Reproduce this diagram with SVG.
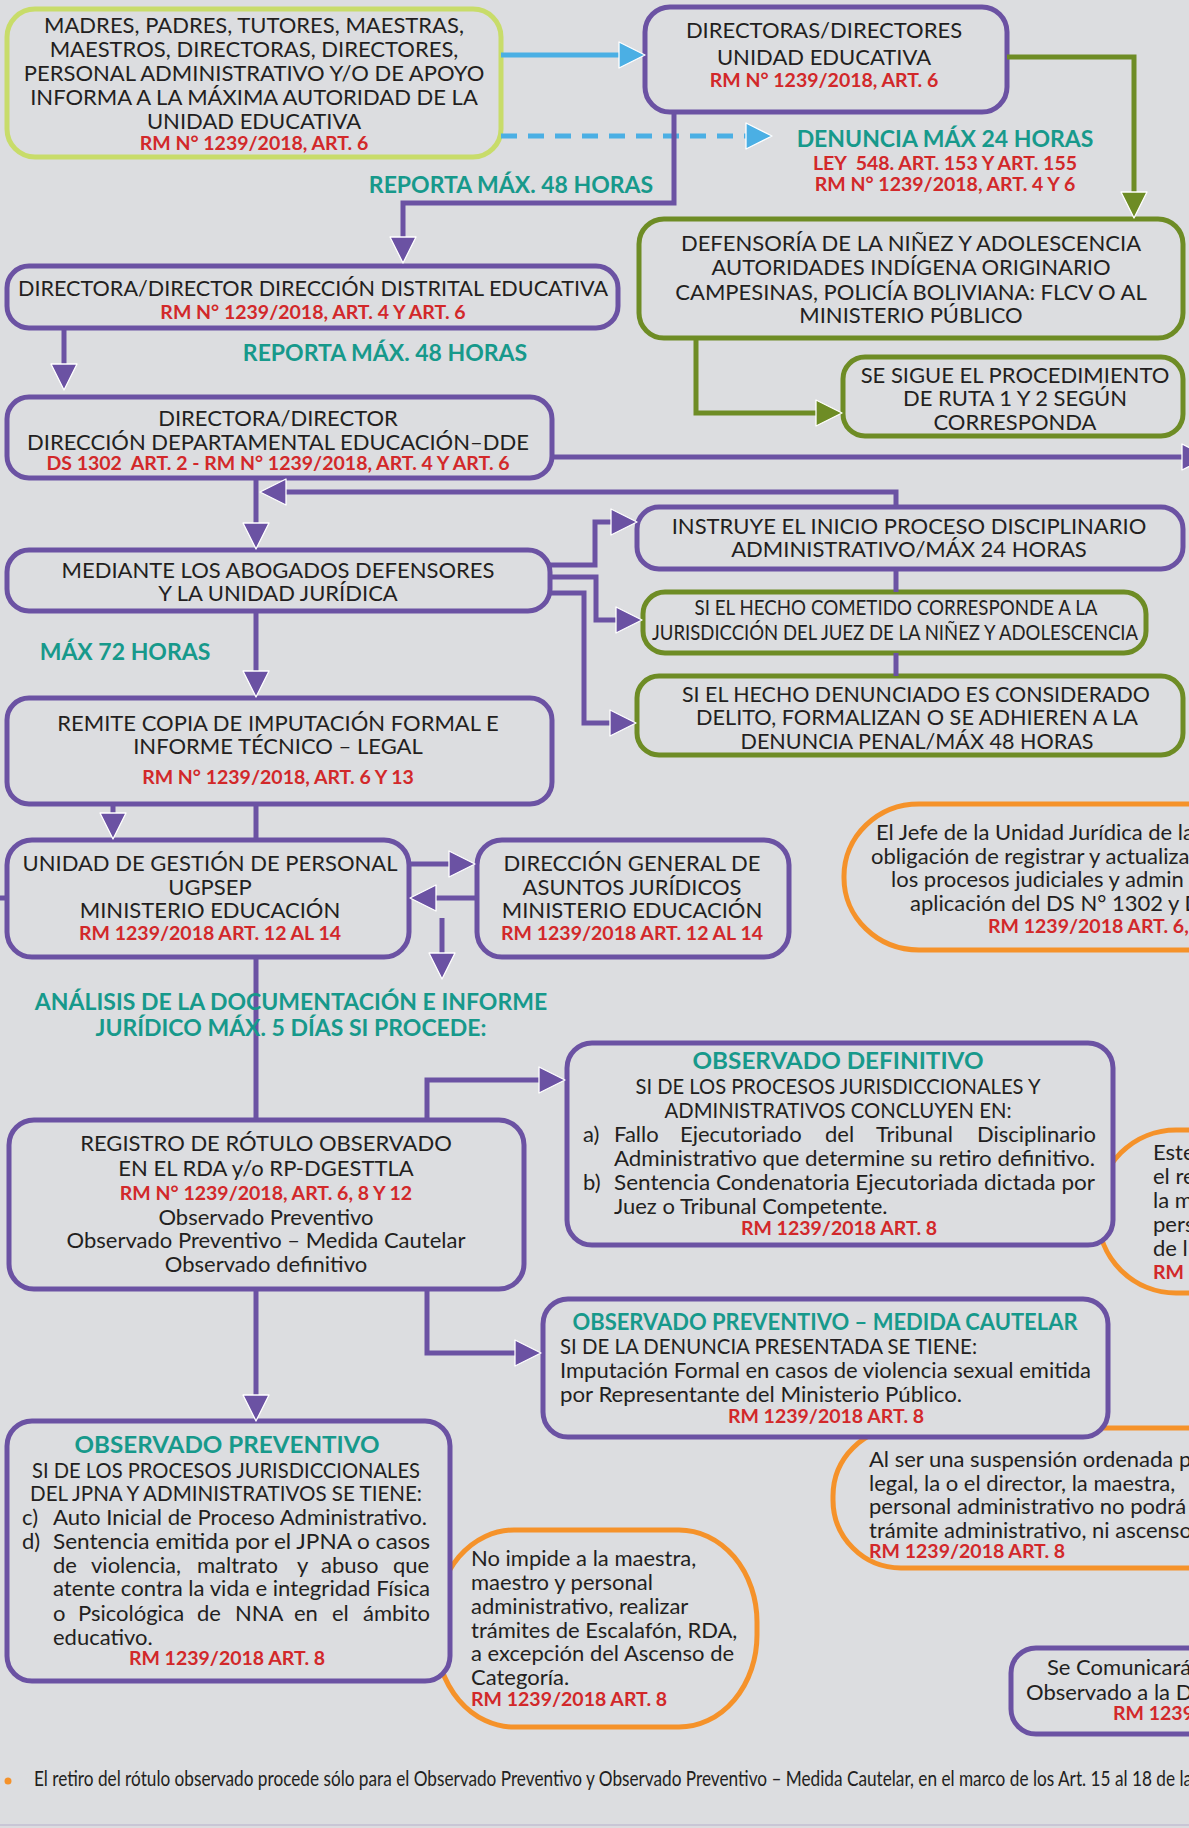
<svg xmlns="http://www.w3.org/2000/svg" width="1189" height="1828" viewBox="0 0 1189 1828">
<style>
text{font-family:Lato,"Liberation Sans",sans-serif;fill:#231f20;font-size:22px}
.c{text-anchor:middle}
.r{fill:#d2282a;font-weight:bold;font-size:19.5px}
.h{fill:#17998b;font-weight:bold;font-size:23px}
.bx{fill:#dcdde0;stroke-width:5}
.pu{stroke:#6b52a3}
.gr{stroke:#6e8c25}
.lg{stroke:#c8dc6a}
.or{stroke:#f5922a}
.cn{fill:none;stroke-width:5;stroke-linejoin:miter}
.cp{stroke:#6b52a3}
.cg{stroke:#6e8c25}
.cb{stroke:#4bafe4}
.dash{stroke-dasharray:16 11}
</style>
<defs>
<marker id="ap" markerUnits="userSpaceOnUse" markerWidth="34" markerHeight="34" viewBox="-3 -17 34 34" refX="0" refY="0" orient="auto" overflow="visible"><path d="M0,-13 L26,0 L0,13 Z" fill="#6b52a3" stroke="#fff" stroke-width="1.3" stroke-linejoin="round"/></marker>
<marker id="ag" markerUnits="userSpaceOnUse" markerWidth="34" markerHeight="34" viewBox="-3 -17 34 34" refX="0" refY="0" orient="auto" overflow="visible"><path d="M0,-13 L26,0 L0,13 Z" fill="#6e8c25" stroke="#fff" stroke-width="1.3" stroke-linejoin="round"/></marker>
<marker id="ab" markerUnits="userSpaceOnUse" markerWidth="34" markerHeight="34" viewBox="-3 -17 34 34" refX="0" refY="0" orient="auto" overflow="visible"><path d="M0,-13 L26,0 L0,13 Z" fill="#4bafe4" stroke="#fff" stroke-width="1.3" stroke-linejoin="round"/></marker>
</defs>
<rect x="0" y="0" width="1189" height="1828" fill="#dcdde0"/>
<line x1="0" y1="1825" x2="1189" y2="1825" stroke="#c9c6d6" stroke-width="2"/>

<g id="nota-jefe">
<rect class="bx or" x="844" y="804" width="420" height="146" rx="75" ry="72"/>
<text x="876" y="840">El Jefe de la Unidad Jurídica de la</text>
<text x="871" y="864">obligación de registrar y actualiza</text>
<text x="891" y="887">los procesos judiciales y admin</text>
<text x="910" y="911">aplicación del DS N° 1302 y D</text>
<text class="r" x="988" y="933">RM 1239/2018 ART. 6,</text>
</g>
<g id="nota-este">
<rect class="bx or" x="1098" y="1130" width="220" height="163" rx="78" ry="78"/>
<text x="1153" y="1160">Este</text>
<text x="1153" y="1184">el re</text>
<text x="1153" y="1208">la m</text>
<text x="1153" y="1232">pers</text>
<text x="1153" y="1256">de l</text>
<text class="r" x="1153" y="1279">RM</text>
</g>
<g id="nota-suspension">
<rect class="bx or" x="833" y="1428" width="420" height="140" rx="68" ry="68"/>
<text x="869" y="1467">Al ser una suspensión ordenada p</text>
<text x="869" y="1491">legal, la o el director, la maestra,</text>
<text x="869" y="1514">personal administrativo no podrá</text>
<text x="869" y="1538">trámite administrativo, ni ascenso</text>
<text class="r" x="869" y="1558">RM 1239/2018 ART. 8</text>
</g>
<g id="nota-no-impide">
<rect class="bx or" x="436" y="1530" width="321" height="197" rx="78" ry="92"/>
<text x="471" y="1566">No impide a la maestra,</text>
<text x="471" y="1590">maestro y personal</text>
<text x="471" y="1614">administrativo, realizar</text>
<text x="471" y="1638">trámites de Escalafón, RDA,</text>
<text x="471" y="1661">a excepción del Ascenso de</text>
<text x="471" y="1685">Categoría.</text>
<text class="r" x="471" y="1706">RM 1239/2018 ART. 8</text>
</g>

<g id="informantes">
<rect class="bx lg" x="7" y="9" width="494" height="148" rx="28"/>
<text class="c" x="254" y="33">MADRES, PADRES, TUTORES, MAESTRAS,</text>
<text class="c" x="254" y="57">MAESTROS, DIRECTORAS, DIRECTORES,</text>
<text class="c" x="254" y="81">PERSONAL ADMINISTRATIVO Y/O DE APOYO</text>
<text class="c" x="254" y="105">INFORMA A LA MÁXIMA AUTORIDAD DE LA</text>
<text class="c" x="254" y="129">UNIDAD EDUCATIVA</text>
<text class="c r" x="254" y="150">RM N° 1239/2018, ART. 6</text>
</g>
<g id="directores-ue">
<rect class="bx pu" x="645" y="7" width="362" height="105" rx="25"/>
<text class="c" x="824" y="38">DIRECTORAS/DIRECTORES</text>
<text class="c" x="824" y="65">UNIDAD EDUCATIVA</text>
<text class="c r" x="824" y="87">RM N° 1239/2018, ART. 6</text>
</g>
<g id="defensoria">
<rect class="bx gr" x="639" y="219" width="544" height="119" rx="25"/>
<text class="c" x="911" y="251">DEFENSORÍA DE LA NIÑEZ Y ADOLESCENCIA</text>
<text class="c" x="911" y="275">AUTORIDADES INDÍGENA ORIGINARIO</text>
<text class="c" x="911" y="300">CAMPESINAS, POLICÍA BOLIVIANA: FLCV O AL</text>
<text class="c" x="911" y="323">MINISTERIO PÚBLICO</text>
</g>
<g id="se-sigue">
<rect class="bx gr" x="843" y="357" width="340" height="79" rx="22"/>
<text class="c" x="1015" y="383">SE SIGUE EL PROCEDIMIENTO</text>
<text class="c" x="1015" y="406">DE RUTA 1 Y 2 SEGÚN</text>
<text class="c" x="1015" y="430">CORRESPONDA</text>
</g>
<g id="distrital">
<rect class="bx pu" x="7" y="266" width="611" height="62" rx="22"/>
<text class="c" x="313" y="296" textLength="590" lengthAdjust="spacingAndGlyphs">DIRECTORA/DIRECTOR DIRECCIÓN DISTRITAL EDUCATIVA</text>
<text class="c r" x="313" y="319">RM N° 1239/2018, ART. 4 Y ART. 6</text>
</g>
<g id="departamental">
<rect class="bx pu" x="7" y="397" width="545" height="81" rx="22"/>
<text class="c" x="278" y="426">DIRECTORA/DIRECTOR</text>
<text class="c" x="278" y="450">DIRECCIÓN DEPARTAMENTAL EDUCACIÓN–DDE</text>
<text class="c r" x="278" y="470">DS 1302&#160; ART. 2 - RM N° 1239/2018, ART. 4 Y ART. 6</text>
</g>
<g id="abogados">
<rect class="bx pu" x="7" y="550" width="543" height="61" rx="22"/>
<text class="c" x="278" y="578">MEDIANTE LOS ABOGADOS DEFENSORES</text>
<text class="c" x="278" y="601">Y LA UNIDAD JURÍDICA</text>
</g>
<g id="instruye">
<rect class="bx pu" x="637" y="507" width="546" height="62" rx="22"/>
<text class="c" x="909" y="534">INSTRUYE EL INICIO PROCESO DISCIPLINARIO</text>
<text class="c" x="909" y="557">ADMINISTRATIVO/MÁX 24 HORAS</text>
</g>
<g id="juez-ninez">
<rect class="bx gr" x="643" y="592" width="503" height="61" rx="22"/>
<text class="c" x="896" y="615" textLength="403" lengthAdjust="spacingAndGlyphs">SI EL HECHO COMETIDO CORRESPONDE A LA</text>
<text class="c" x="895" y="640" textLength="486" lengthAdjust="spacingAndGlyphs">JURISDICCIÓN DEL JUEZ DE LA NIÑEZ Y ADOLESCENCIA</text>
</g>
<g id="delito">
<rect class="bx gr" x="637" y="676" width="546" height="79" rx="22"/>
<text class="c" x="916" y="702" textLength="468" lengthAdjust="spacingAndGlyphs">SI EL HECHO DENUNCIADO ES CONSIDERADO</text>
<text class="c" x="917" y="725" textLength="442" lengthAdjust="spacingAndGlyphs">DELITO, FORMALIZAN O SE ADHIEREN A LA</text>
<text class="c" x="917" y="749" textLength="353" lengthAdjust="spacingAndGlyphs">DENUNCIA PENAL/MÁX 48 HORAS</text>
</g>
<g id="remite">
<rect class="bx pu" x="7" y="698" width="545" height="106" rx="22"/>
<text class="c" x="278" y="731">REMITE COPIA DE IMPUTACIÓN FORMAL E</text>
<text class="c" x="278" y="754">INFORME TÉCNICO – LEGAL</text>
<text class="c r" x="278" y="784">RM N° 1239/2018, ART. 6 Y 13</text>
</g>
<g id="ugpsep">
<rect class="bx pu" x="7" y="840" width="402" height="117" rx="25"/>
<text class="c" x="210" y="871">UNIDAD DE GESTIÓN DE PERSONAL</text>
<text class="c" x="210" y="895">UGPSEP</text>
<text class="c" x="210" y="918">MINISTERIO EDUCACIÓN</text>
<text class="c r" x="210" y="940">RM 1239/2018 ART. 12 AL 14</text>
</g>
<g id="dgaj">
<rect class="bx pu" x="477" y="840" width="312" height="117" rx="25"/>
<text class="c" x="632" y="871">DIRECCIÓN GENERAL DE</text>
<text class="c" x="632" y="895">ASUNTOS JURÍDICOS</text>
<text class="c" x="632" y="918">MINISTERIO EDUCACIÓN</text>
<text class="c r" x="632" y="940">RM 1239/2018 ART. 12 AL 14</text>
</g>
<g id="registro">
<rect class="bx pu" x="9" y="1120" width="515" height="169" rx="25"/>
<text class="c" x="266" y="1151">REGISTRO DE RÓTULO OBSERVADO</text>
<text class="c" x="266" y="1176">EN EL RDA y/o RP-DGESTTLA</text>
<text class="c r" x="266" y="1200">RM N° 1239/2018, ART. 6, 8 Y 12</text>
<text class="c" x="266" y="1225">Observado Preventivo</text>
<text class="c" x="266" y="1248">Observado Preventivo – Medida Cautelar</text>
<text class="c" x="266" y="1272">Observado definitivo</text>
</g>
<g id="observado-definitivo">
<rect class="bx pu" x="567" y="1043" width="546" height="202" rx="25"/>
<text class="c h" x="838" y="1069" textLength="291" lengthAdjust="spacingAndGlyphs">OBSERVADO DEFINITIVO</text>
<text class="c" x="838" y="1094" textLength="405" lengthAdjust="spacingAndGlyphs">SI DE LOS PROCESOS JURISDICCIONALES Y</text>
<text class="c" x="838" y="1118" textLength="347" lengthAdjust="spacingAndGlyphs">ADMINISTRATIVOS CONCLUYEN EN:</text>
<text x="583" y="1142">a)</text>
<text y="1142"><tspan x="614">Fallo</tspan><tspan x="680">Ejecutoriado</tspan><tspan x="825">del</tspan><tspan x="876">Tribunal</tspan><tspan x="977">Disciplinario</tspan></text>
<text x="614" y="1166" textLength="481" lengthAdjust="spacingAndGlyphs">Administrativo que determine su retiro definitivo.</text>
<text x="583" y="1190">b)</text>
<text x="614" y="1190" textLength="481" lengthAdjust="spacingAndGlyphs">Sentencia Condenatoria Ejecutoriada dictada por</text>
<text x="614" y="1214">Juez o Tribunal Competente.</text>
<text class="c r" x="839" y="1235">RM 1239/2018 ART. 8</text>
</g>
<g id="medida-cautelar">
<rect class="bx pu" x="543" y="1299" width="565" height="138" rx="25"/>
<text class="c h" x="825" y="1330" textLength="505" lengthAdjust="spacingAndGlyphs">OBSERVADO PREVENTIVO – MEDIDA CAUTELAR</text>
<text x="560" y="1354" textLength="417" lengthAdjust="spacingAndGlyphs">SI DE LA DENUNCIA PRESENTADA SE TIENE:</text>
<text x="560" y="1378" textLength="531" lengthAdjust="spacingAndGlyphs">Imputación Formal en casos de violencia sexual emitida</text>
<text x="560" y="1402" textLength="402" lengthAdjust="spacingAndGlyphs">por Representante del Ministerio Público.</text>
<text class="c r" x="826" y="1423">RM 1239/2018 ART. 8</text>
</g>
<g id="observado-preventivo">
<rect class="bx pu" x="7" y="1421" width="443" height="260" rx="25"/>
<text class="c h" x="227" y="1453" textLength="305" lengthAdjust="spacingAndGlyphs">OBSERVADO PREVENTIVO</text>
<text class="c" x="226" y="1478" textLength="388" lengthAdjust="spacingAndGlyphs">SI DE LOS PROCESOS JURISDICCIONALES</text>
<text class="c" x="226" y="1501" textLength="392" lengthAdjust="spacingAndGlyphs">DEL JPNA Y ADMINISTRATIVOS SE TIENE:</text>
<text x="22" y="1525">c)</text>
<text x="53" y="1525" textLength="374" lengthAdjust="spacingAndGlyphs">Auto Inicial de Proceso Administrativo.</text>
<text x="22" y="1549">d)</text>
<text x="53" y="1549" textLength="377" lengthAdjust="spacingAndGlyphs">Sentencia emitida por el JPNA o casos</text>
<text y="1573"><tspan x="53">de</tspan><tspan x="91">violencia,</tspan><tspan x="197">maltrato</tspan><tspan x="297">y</tspan><tspan x="321">abuso</tspan><tspan x="393">que</tspan></text>
<text x="53" y="1596" textLength="377" lengthAdjust="spacingAndGlyphs">atente contra la vida e integridad Física</text>
<text y="1621"><tspan x="53">o</tspan><tspan x="78">Psicológica</tspan><tspan x="197">de</tspan><tspan x="235">NNA</tspan><tspan x="294">en</tspan><tspan x="332">el</tspan><tspan x="363">ámbito</tspan></text>
<text x="53" y="1645">educativo.</text>
<text class="c r" x="227" y="1665">RM 1239/2018 ART. 8</text>
</g>
<g id="se-comunicara">
<rect class="bx pu" x="1011" y="1648" width="260" height="86" rx="25"/>
<text x="1047" y="1675">Se Comunicará</text>
<text x="1026" y="1700">Observado a la D</text>
<text class="r" x="1113" y="1720">RM 1239/</text>
</g>

<g id="connectors">
<path class="cn cb" d="M501,55 H619" marker-end="url(#ab)"/>
<path class="cn cb dash" d="M501,136 H746" marker-end="url(#ab)"/>
<path class="cn cg" d="M1007,57 H1134 V192" marker-end="url(#ag)"/>
<path class="cn cg" d="M696,338 V413 H816" marker-end="url(#ag)"/>
<path class="cn cp" d="M674,112 V203 H403 V237" marker-end="url(#ap)"/>
<path class="cn cp" d="M64,328 V364" marker-end="url(#ap)"/>
<path class="cn cp" d="M552,457 H1182" marker-end="url(#ap)"/>
<path class="cn cp" d="M256,478 V523" marker-end="url(#ap)"/>
<path class="cn cp" d="M896,507 V492 H286" marker-end="url(#ap)"/>
<path class="cn cp" d="M896,569 V592"/>
<path class="cn cp" d="M896,653 V676"/>
<path class="cn cp" d="M548,565 H595 V522 H611" marker-end="url(#ap)"/>
<path class="cn cp" d="M548,577 H596 V620 H616" marker-end="url(#ap)"/>
<path class="cn cp" d="M548,593 H584 V723 H610" marker-end="url(#ap)"/>
<path class="cn cp" d="M256,611 V671" marker-end="url(#ap)"/>
<path class="cn cp" d="M113,804 V813" marker-end="url(#ap)"/>
<path class="cn cp" d="M256,804 V840"/>
<path class="cn cp" d="M409,864 H449" marker-end="url(#ap)"/>
<path class="cn cp" d="M477,898 H436" marker-end="url(#ap)"/>
<path class="cn cp" d="M442,918 V953" marker-end="url(#ap)"/>
<path class="cn cp" d="M256,957 V1120"/>
<path class="cn cp" d="M427,1120 V1080 H539" marker-end="url(#ap)"/>
<path class="cn cp" d="M427,1289 V1353 H515" marker-end="url(#ap)"/>
<path class="cn cp" d="M256,1289 V1395" marker-end="url(#ap)"/>
<path class="cn cp" d="M0,898 H7"/>
</g>

<g id="labels">
<text class="c h" x="945" y="147">DENUNCIA MÁX 24 HORAS</text>
<text class="c r" x="945" y="170" xml:space="preserve">LEY  548. ART. 153 Y ART. 155</text>
<text class="c r" x="945" y="191">RM N° 1239/2018, ART. 4 Y 6</text>
<text class="c h" x="511" y="193">REPORTA MÁX. 48 HORAS</text>
<text class="c h" x="385" y="361">REPORTA MÁX. 48 HORAS</text>
<text class="c h" x="125" y="660">MÁX 72 HORAS</text>
<text class="c h" x="291" y="1010">ANÁLISIS DE LA DOCUMENTACIÓN E INFORME</text>
<text class="c h" x="291" y="1036">JURÍDICO MÁX. 5 DÍAS SI PROCEDE:</text>
</g>

<g id="nota-pie">
<circle cx="8" cy="1781" r="3.5" fill="#f5922a"/>
<text x="34" y="1786" font-size="15" textLength="1158" lengthAdjust="spacingAndGlyphs">El retiro del rótulo observado procede sólo para el Observado Preventivo y Observado Preventivo – Medida Cautelar, en el marco de los Art. 15 al 18 de la</text>
</g>
</svg>
